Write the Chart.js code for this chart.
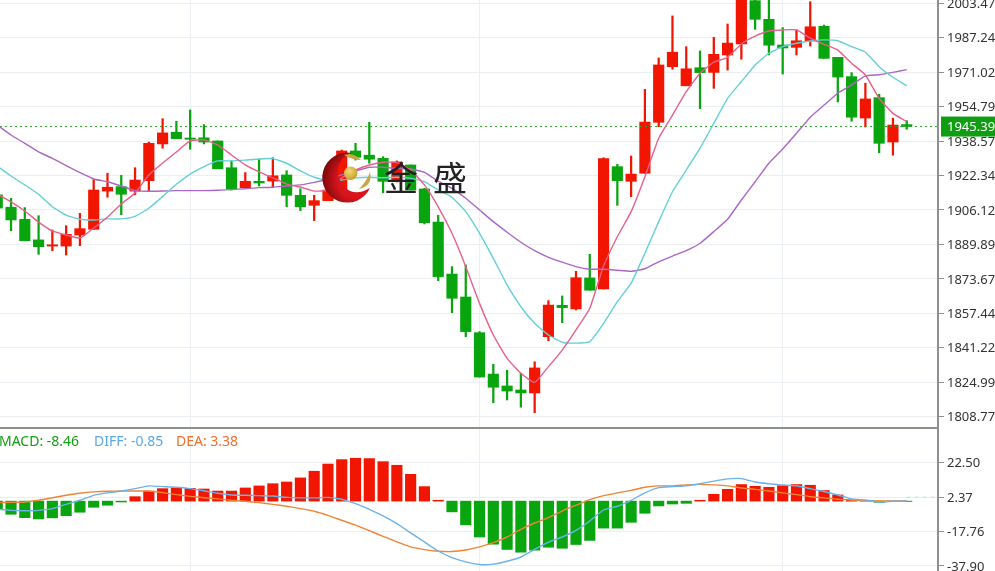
<!DOCTYPE html>
<html lang="zh">
<head>
<meta charset="utf-8">
<title>K线图</title>
<script src="https://cdn.jsdelivr.net/npm/chart.js@4/dist/chart.umd.min.js"></script>
<style>
  html, body { margin: 0; padding: 0; background: #fff; overflow: hidden; }
  #wrap { position: relative; width: 995px; height: 571px; overflow: hidden; }
  canvas { position: absolute; left: 0; display: block; }
  #priceChart { top: 0; }
  #macdChart { top: 428px; }
  #divider { position: absolute; left: 0; top: 427px; width: 938px; height: 2px; background: #8f8f8f; }
  #macdLegend { position: absolute; left: -1px; top: 431px; font: 14px "Noto Sans", sans-serif; white-space: pre; }
  #macdLegend span { position: absolute; top: 0; }
  #logo { position: absolute; left: 315px; top: 145px; }
  #brand { position: absolute; left: 384px; top: 155px; font: 34px/44px "Noto Sans CJK SC", sans-serif; letter-spacing: 15px; color: #222; white-space: pre; }
</style>
</head>
<body>
<div id="wrap">
  <canvas id="priceChart" width="995" height="428"></canvas>
  <canvas id="macdChart" width="995" height="143"></canvas>
  <div id="divider"></div>
  <div id="macdLegend">
    <span style="left:0;color:#12a012">MACD: -8.46</span>
    <span style="left:95px;color:#5aa8e6">DIFF: -0.85</span>
    <span style="left:177px;color:#f0702a">DEA: 3.38</span>
  </div>
  <svg id="logo" width="65" height="65" viewBox="315 145 65 65">
    <defs>
      <radialGradient id="moon" cx="0.68" cy="0.55" r="0.72">
        <stop offset="0.5" stop-color="#d8141c"/>
        <stop offset="1" stop-color="#6e0808"/>
      </radialGradient>
      <radialGradient id="ball" cx="0.4" cy="0.35" r="0.7">
        <stop offset="0" stop-color="#f2dc7a"/>
        <stop offset="1" stop-color="#c49a24"/>
      </radialGradient>
    </defs>
    <path d="M351.7 153 A25 25 0 1 0 370 188 Q355 197 344 187 Q333 172 342 159 Q346 155 351.7 153 Z" fill="url(#moon)"/>
    <circle cx="350.7" cy="173.3" r="6.7" fill="url(#ball)"/>
    <path d="M344 155 Q354 152 361 160 Q352 160 344 155 Z" fill="#c9a544"/>
    <path d="M359 189 Q367 181 370 172 Q373 186 359 189 Z" fill="#c9a544"/>
  </svg>
  <div id="brand">金盛</div>
</div>

<script>
// -----------------------------------------
// DATA: candles (67 sessions, left to right)
// -----------------------------------------
const opens = [
  1913.2, 1907.4, 1901.7, 1892.0, 1889.1, 1889.1, 1894.3, 1897.0, 1915.0, 1917.1,
  1915.0, 1919.9, 1937.2, 1942.7, 1940.0, 1940.1, 1938.6, 1926.0, 1916.6, 1919.6,
  1919.7, 1922.6, 1913.0, 1908.3, 1910.5, 1915.5, 1933.9, 1931.9, 1930.4, 1919.7,
  1927.3, 1916.0, 1900.4, 1875.9, 1865.1, 1848.3, 1828.8, 1823.2, 1821.3, 1819.9,
  1846.4, 1861.2, 1859.5, 1874.1, 1868.9, 1926.5, 1919.6, 1923.4, 1947.4, 1973.6,
  1964.6, 1973.1, 1970.9, 1979.1, 1984.3, 2004.7, 1995.9, 1983.8, 1982.7, 1985.7,
  1992.6, 1978.0, 1968.9, 1949.4, 1959.0, 1938.1, 1946.3
];
const closes = [
  1907.0, 1901.4, 1891.6, 1888.8, 1889.7, 1894.6, 1897.3, 1915.5, 1916.8, 1913.5,
  1920.2, 1937.5, 1942.4, 1939.7, 1939.4, 1938.1, 1925.5, 1916.0, 1919.6, 1918.8,
  1922.2, 1913.0, 1907.6, 1910.5, 1915.5, 1933.9, 1930.9, 1930.0, 1919.6, 1928.7,
  1915.5, 1900.1, 1874.7, 1864.5, 1848.8, 1827.4, 1822.6, 1820.8, 1819.9, 1831.7,
  1861.3, 1860.1, 1874.2, 1868.3, 1930.3, 1919.9, 1923.0, 1947.5, 1974.4, 1980.4,
  1972.6, 1970.8, 1979.4, 1984.7, 2010.7, 1995.9, 1983.7, 1982.4, 1985.8, 1992.4,
  1977.5, 1968.7, 1949.8, 1958.4, 1937.5, 1946.1, 1945.4
];
const highs = [
  1914.1, 1911.6, 1907.2, 1903.4, 1896.7, 1898.7, 1904.5, 1920.5, 1923.4, 1922.4,
  1926.0, 1938.1, 1949.1, 1947.9, 1953.2, 1946.3, 1938.6, 1929.2, 1923.7, 1930.0,
  1930.7, 1924.6, 1916.1, 1913.0, 1917.9, 1934.3, 1937.5, 1947.4, 1931.2, 1929.2,
  1927.3, 1916.3, 1903.6, 1879.4, 1880.2, 1848.8, 1833.4, 1830.6, 1829.2, 1834.6,
  1863.4, 1865.6, 1877.2, 1885.2, 1930.7, 1927.6, 1931.5, 1962.9, 1977.7, 1997.5,
  1983.0, 1981.0, 1987.4, 1993.7, 2012.0, 2006.5, 2007.4, 1992.0, 1990.9, 2004.2,
  1993.2, 1978.0, 1970.8, 1965.8, 1960.6, 1949.3, 1948.2
];
const lows = [
  1905.0, 1896.3, 1891.6, 1885.2, 1886.9, 1884.9, 1889.3, 1897.0, 1912.1, 1903.9,
  1913.2, 1914.7, 1935.2, 1939.7, 1934.7, 1937.2, 1925.5, 1915.5, 1916.6, 1917.4,
  1916.6, 1907.6, 1905.8, 1901.1, 1910.5, 1915.5, 1929.6, 1928.1, 1914.2, 1919.3,
  1915.5, 1899.5, 1872.8, 1857.7, 1846.4, 1827.4, 1815.3, 1816.6, 1813.2, 1810.6,
  1844.5, 1853.0, 1859.0, 1868.3, 1868.9, 1908.3, 1912.4, 1923.4, 1945.3, 1972.4,
  1964.6, 1953.8, 1963.4, 1972.0, 1977.1, 1991.2, 1979.1, 1970.1, 1979.1, 1983.3,
  1977.5, 1957.0, 1947.9, 1945.2, 1933.1, 1931.9, 1944.1
];

// -----------------------------------------
// DATA: moving averages
// -----------------------------------------
const ma5 = [
  1913.6, 1909.9, 1905.6, 1900.4, 1896.2, 1894.3, 1892.9, 1897.6, 1902.8, 1908.9,
  1914.1, 1922.6, 1928.2, 1933.4, 1938.6, 1939.1, 1936.7, 1932.0, 1927.3, 1924.0,
  1921.2, 1918.3, 1916.9, 1915.0, 1915.5, 1921.2, 1924.9, 1927.3, 1928.6, 1928.4,
  1924.9, 1917.9, 1907.6, 1895.1, 1879.4, 1862.1, 1847.2, 1836.2, 1829.2, 1824.9,
  1832.3, 1840.1, 1849.6, 1859.8, 1879.7, 1893.5, 1905.3, 1921.8, 1939.9, 1950.8,
  1961.8, 1970.5, 1975.7, 1978.0, 1984.3, 1988.0, 1990.4, 1990.9, 1990.9, 1987.0,
  1984.1, 1981.4, 1975.2, 1969.7, 1958.7, 1951.6, 1947.7
];
const ma10 = [
  1926.8, 1922.1, 1917.9, 1913.5, 1907.6, 1903.7, 1901.7, 1901.4, 1901.9, 1901.9,
  1903.1, 1906.9, 1912.4, 1918.2, 1923.0, 1926.5, 1929.2, 1929.2, 1929.6, 1930.1,
  1930.3, 1928.1, 1924.5, 1921.5, 1920.2, 1920.2, 1921.2, 1921.5, 1921.3, 1921.5,
  1921.0, 1919.4, 1915.5, 1912.1, 1905.3, 1895.1, 1883.3, 1870.8, 1860.5, 1852.7,
  1847.2, 1843.8, 1843.4, 1844.1, 1852.7, 1862.9, 1871.6, 1885.7, 1900.6, 1914.7,
  1924.9, 1935.2, 1946.9, 1958.7, 1966.5, 1974.4, 1979.9, 1983.0, 1984.6, 1985.7,
  1986.2, 1985.8, 1983.0, 1980.4, 1973.6, 1968.6, 1964.6
];
const ma20 = [
  1946.1, 1941.4, 1937.5, 1933.5, 1930.4, 1927.0, 1923.7, 1920.7, 1919.4, 1917.4,
  1915.2, 1914.9, 1915.0, 1915.2, 1915.2, 1915.2, 1915.4, 1915.7, 1916.1, 1916.6,
  1916.8, 1917.4, 1917.9, 1919.1, 1920.7, 1922.6, 1924.5, 1926.2, 1926.2, 1925.7,
  1925.4, 1923.8, 1919.7, 1916.3, 1911.6, 1906.1, 1900.6, 1895.6, 1890.9, 1886.9,
  1883.8, 1881.5, 1879.4, 1878.2, 1878.2, 1877.7, 1877.2, 1878.4, 1881.7, 1884.4,
  1886.9, 1890.4, 1895.9, 1901.7, 1910.8, 1919.4, 1928.1, 1934.8, 1942.2, 1949.8,
  1955.5, 1961.1, 1965.0, 1969.3, 1969.8, 1970.9, 1972.2
];

// -----------------------------------------
// DATA: MACD panel
// -----------------------------------------
const macdBars = [
  -4.8, -7.7, -9.7, -10.4, -9.8, -8.5, -6.5, -3.6, -2.4, -0.5,
  2.6, 5.8, 7.3, 7.7, 7.5, 7.1, 5.9, 5.9, 7.7, 8.9,
  10.2, 11.2, 13.6, 17.5, 21.7, 24.3, 25.1, 24.9, 23.1, 21.0,
  15.7, 8.5, 0.5, -6.3, -13.9, -21.0, -25.2, -28.3, -29.9, -28.7,
  -27.0, -27.6, -25.4, -23.0, -15.8, -15.8, -12.4, -7.1, -2.8, -1.7,
  -1.3, 0.5, 4.0, 6.9, 9.7, 8.7, 8.1, 9.1, 9.7, 9.3,
  6.2, 3.6, 0.7, 0.4, -0.7, -0.1, -0.2
];
const diffLine = [
  -4.8, -5.4, -5.6, -5.4, -4.4, -1.9, 0.5, 3.4, 4.8, 5.9,
  7.3, 8.9, 8.5, 8.1, 7.3, 6.1, 4.6, 3.6, 3.4, 3.2,
  3.0, 2.2, 1.9, 1.9, 2.2, 1.1, -1.5, -4.8, -8.7, -13.2,
  -18.6, -23.9, -29.2, -33.1, -35.6, -37.1, -36.9, -35.2, -32.7, -28.2,
  -24.0, -21.0, -17.1, -11.6, -5.2, -3.0, 0.5, 4.8, 7.9, 8.5,
  9.0, 10.2, 11.7, 13.0, 13.2, 11.2, 10.2, 9.4, 9.0, 7.3,
  5.6, 3.6, 1.3, 0.7, -0.5, -0.1, 0.1
];
const deaLine = [
  -0.9, -0.7, -0.5, 0.5, 2.0, 3.4, 4.6, 5.4, 5.8, 5.9,
  5.9, 5.9, 5.0, 3.8, 2.8, 2.0, 1.3, 0.5, -0.1, -0.9,
  -1.9, -3.0, -4.4, -5.9, -8.3, -11.2, -14.1, -17.3, -20.6, -23.9,
  -26.8, -28.4, -29.3, -29.5, -28.6, -26.8, -24.3, -21.0, -16.5, -12.8,
  -9.7, -5.8, -2.4, 0.9, 3.2, 4.8, 6.3, 8.1, 8.9, 8.9,
  9.5, 9.8, 9.5, 8.9, 7.7, 6.9, 5.9, 4.8, 3.8, 2.6,
  1.9, 1.1, 0.7, 0.3, 0.1, 0.1, 0.1
];

// -----------------------------------------
// DATA: axes
// -----------------------------------------
const priceTicks = [
  2003.47, 1987.24, 1971.02, 1954.79, 1938.57, 1922.34, 1906.12,
  1889.89, 1873.67, 1857.44, 1841.22, 1824.99, 1808.77
];
const macdTicks = [22.50, 2.37, -17.76, -37.90];
const dateLines = [14, 35, 57];
const lastPrice = 1945.39;

// -----------------------------------------
// Colours & shared settings
// -----------------------------------------
const RED = '#f21500';
const GREEN = '#09a50f';
const GRID = '#ebeff3';
const AXIS = '#8f8f8f';
const FONT = { family: '"Noto Sans", sans-serif', size: 13 };
const X_MIN = 0.2;
const X_MAX = 68.27;
const AXIS_WIDTH = 57;

const candleColors = opens.map((o, i) => (closes[i] >= o ? RED : GREEN));
const at = arr => arr.map((v, i) => ({ x: i, y: v }));

// Tick labels must not push the plot area in from the canvas edges
function noPadding(s) {
  s.paddingTop = s.paddingBottom = s.paddingLeft = s.paddingRight = 0;
}

function xAxis() {
  return {
    type: 'linear',
    offset: false,
    min: X_MIN,
    max: X_MAX,
    afterBuildTicks: s => { s.ticks = dateLines.map(v => ({ value: v })); },
    afterFit: s => { s.height = 0; noPadding(s); },
    ticks: { display: false },
    border: { display: false },
    grid: { color: GRID, drawTicks: false, offset: false }
  };
}

function yAxis(min, max, values) {
  return {
    position: 'right',
    min,
    max,
    afterBuildTicks: s => { s.ticks = values.map(v => ({ value: v })); },
    afterFit: s => { s.width = AXIS_WIDTH; noPadding(s); },
    ticks: {
      autoSkip: false,
      padding: 3,
      labelOffset: 1,
      color: '#333',
      font: FONT,
      callback: v => Number(v).toFixed(2)
    },
    border: { color: AXIS, width: 2 },
    grid: { color: GRID, tickColor: AXIS, tickLength: 6 }
  };
}

function lineSet(values, color, width) {
  return {
    type: 'line',
    data: at(values),
    borderColor: color,
    borderWidth: width || 1.4,
    pointRadius: 0,
    tension: 0.15,
    order: 1
  };
}

const baseOptions = {
  responsive: false,
  animation: false,
  layout: { padding: 0 },
  plugins: { legend: { display: false }, tooltip: { enabled: false } }
};

// -----------------------------------------
// PLUGIN: green last-price tag on the axis
// -----------------------------------------
const priceTag = {
  id: 'priceTag',
  afterDraw(chart) {
    const ctx = chart.ctx;
    const y = chart.scales.y.getPixelForValue(lastPrice);
    ctx.save();
    ctx.fillStyle = '#0f9d12';
    ctx.fillRect(941, y - 10, 54, 20);
    ctx.fillStyle = '#fff';
    ctx.font = '13px "Noto Sans", sans-serif';
    ctx.textBaseline = 'middle';
    ctx.fillText(lastPrice.toFixed(2), 947, y + 1);
    ctx.restore();
  }
};

// -----------------------------------------
// Price panel
// -----------------------------------------
new Chart(document.getElementById('priceChart'), {
  type: 'bar',
  data: {
    datasets: [
      lineSet(ma5, '#e8608c'),
      lineSet(ma10, '#62d0d8'),
      lineSet(ma20, '#aa68c4'),
      {
        type: 'line',
        data: [{ x: X_MIN, y: lastPrice }, { x: X_MAX, y: lastPrice }],
        borderColor: '#2aa52a',
        borderWidth: 1,
        borderDash: [2, 3],
        pointRadius: 0,
        order: 1
      },
      {
        data: at(opens.map((o, i) => [o, closes[i]])),
        backgroundColor: candleColors,
        barThickness: 10.5,
        grouped: false,
        order: 2
      },
      {
        data: at(lows.map((l, i) => [l, highs[i]])),
        backgroundColor: candleColors,
        barThickness: 1.6,
        grouped: false,
        order: 3
      }
    ]
  },
  options: {
    ...baseOptions,
    scales: { x: xAxis(), y: yAxis(1803.4, 2005, priceTicks) }
  },
  plugins: [priceTag]
});

// -----------------------------------------
// MACD panel
// -----------------------------------------
new Chart(document.getElementById('macdChart'), {
  type: 'bar',
  data: {
    datasets: [
      lineSet(diffLine, '#6cb2ea'),
      lineSet(deaLine, '#f08436'),
      {
        type: 'line',
        data: [{ x: 66, y: macdTicks[1] }, { x: X_MAX, y: macdTicks[1] }],
        borderColor: '#bfe4e6',
        borderWidth: 1,
        borderDash: [4, 4],
        pointRadius: 0,
        order: 1
      },
      {
        data: at(macdBars),
        backgroundColor: macdBars.map(v => (v >= 0 ? RED : GREEN)),
        barThickness: 10.5,
        grouped: false,
        order: 2
      }
    ]
  },
  options: {
    ...baseOptions,
    scales: { x: xAxis(), y: yAxis(-40.9, 42.8, macdTicks) }
  }
});
</script>
</body>
</html>
